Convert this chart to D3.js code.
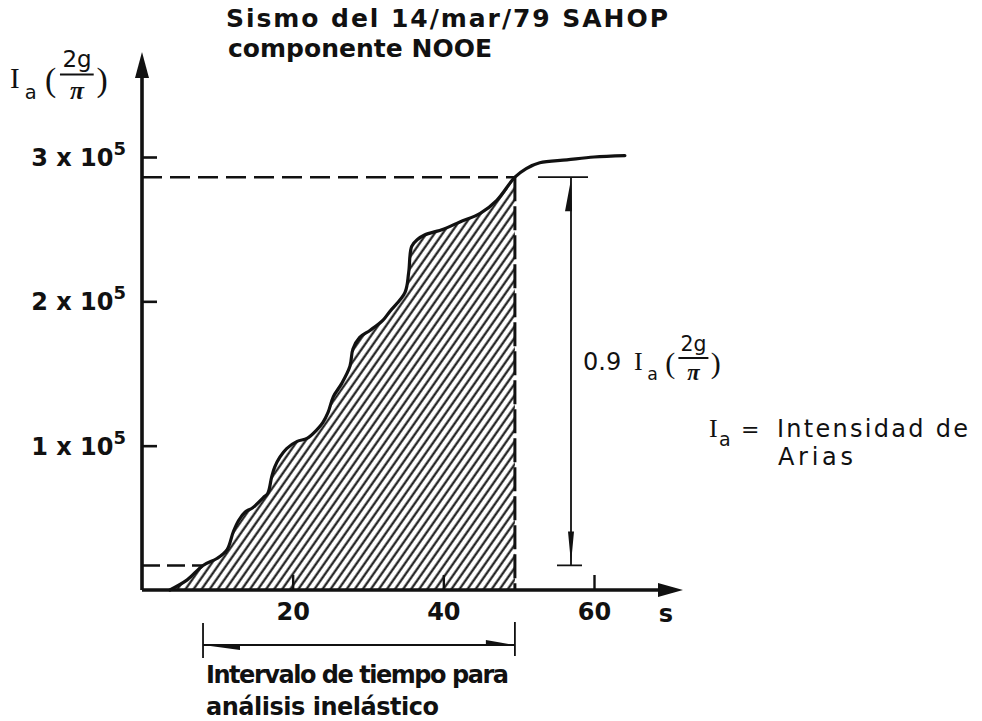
<!DOCTYPE html>
<html>
<head>
<meta charset="utf-8">
<script src="https://cdn.jsdelivr.net/npm/d3@7"></script>
<style>
  body { margin: 0; background: #fff; }
  text { font-family: "DejaVu Sans", sans-serif; font-weight: bold; fill: #111; }
  .serif { font-family: "Liberation Serif", serif; font-weight: normal; }
</style>
</head>
<body>
<div id="chart"></div>
<script>
// Arias intensity build-up, time in s, intensity in units of 1e5 (2g/pi)
const timeS = [3.7, 6, 8.1, 10, 11.3, 12.1, 12.8, 13.7, 14.7, 16.1, 16.7, 17.2, 17.6, 18.3, 19.2,
  20.6, 21.9, 23.2, 24.0, 24.7, 25.4, 26.5, 27.6, 28.0, 28.9, 30.3, 32.0, 32.9, 34.9, 35.4,
  35.8, 36.6, 37.5, 40.0, 42.2, 44.9, 47.1, 49.5, 51, 52.8, 56.4, 60, 64.1];
const intensity = [0, 0.07, 0.17, 0.22, 0.28, 0.40, 0.48, 0.54, 0.57, 0.64, 0.67, 0.78, 0.85, 0.92, 0.98,
  1.03, 1.05, 1.11, 1.16, 1.23, 1.34, 1.43, 1.55, 1.67, 1.75, 1.80, 1.87, 1.93, 2.06, 2.20,
  2.38, 2.43, 2.46, 2.50, 2.55, 2.61, 2.70, 2.86, 2.92, 2.96, 2.98, 3.00, 3.01];
const yTicks = [1, 2, 3];
const xTicks = [20, 40, 60];
const t5 = 8.1, i5 = 0.17;     // 5 % of total intensity
const t95 = 49.5, i95 = 2.86;  // 95 % of total intensity

const W = 982, H = 721;
const svg = d3.select('#chart').append('svg')
    .attr('width', W)
    .attr('height', H);

const x = d3.scaleLinear().domain([0, 60]).range([142, 594]);
const y = d3.scaleLinear().domain([0, 3]).range([590, 157]);

const points = timeS.map((t, i) => ({ t: t, v: intensity[i] }));

// hatch pattern
const defs = svg.append('defs');
defs.append('pattern')
    .attr('id', 'hatch')
    .attr('patternUnits', 'userSpaceOnUse')
    .attr('width', 6.6)
    .attr('height', 10)
    .attr('patternTransform', 'rotate(35)')
    .append('line')
    .attr('x1', 1.5).attr('x2', 1.5)
    .attr('y1', -1).attr('y2', 11)
    .attr('stroke', '#111')
    .attr('stroke-width', 2.1);

const area = d3.area()
    .x(d => x(d.t))
    .y0(y(0))
    .y1(d => y(d.v))
    .curve(d3.curveCatmullRom.alpha(0.5));

svg.append('path')
    .datum(points.filter(d => d.t <= t95))
    .attr('d', area)
    .attr('fill', 'url(#hatch)');

// dashed guide lines
svg.append('line')
    .attr('x1', x(0)).attr('x2', x(t95))
    .attr('y1', y(i95)).attr('y2', y(i95))
    .attr('stroke', '#111').attr('stroke-width', 2.6)
    .attr('stroke-dasharray', '20 8');

svg.append('line')
    .attr('x1', x(0)).attr('x2', x(t5))
    .attr('y1', y(i5)).attr('y2', y(i5))
    .attr('stroke', '#111').attr('stroke-width', 2.6)
    .attr('stroke-dasharray', '18 7');

svg.append('line')
    .attr('x1', x(t95)).attr('x2', x(t95))
    .attr('y1', y(i95)).attr('y2', y(0))
    .attr('stroke', '#111').attr('stroke-width', 3)
    .attr('stroke-dasharray', '24 5');

// curve
const line = d3.line()
    .x(d => x(d.t))
    .y(d => y(d.v))
    .curve(d3.curveCatmullRom.alpha(0.5));

svg.append('path')
    .datum(points)
    .attr('d', line)
    .attr('fill', 'none')
    .attr('stroke', '#111')
    .attr('stroke-width', 3.2)
    .attr('stroke-linejoin', 'round')
    .attr('stroke-linecap', 'round');

// axes
const yAxis = svg.append('g')
    .attr('transform', `translate(${x(0)},0)`)
    .call(d3.axisLeft(y).tickValues(yTicks).tickSizeInner(-15).tickSizeOuter(0).tickPadding(16));
yAxis.select('.domain').remove();
yAxis.selectAll('.tick line').attr('stroke', '#111').attr('stroke-width', 2.6);
yAxis.selectAll('.tick text')
    .attr('dy', '0.36em')
    .style('font-size', '24px')
    .each(function(d) {
        const t = d3.select(this).text('');
        t.append('tspan').text(d + ' x 10');
        t.append('tspan').attr('dy', -11).style('font-size', '18px').text('5');
    });

const xAxis = svg.append('g')
    .attr('transform', `translate(0,${y(0)})`)
    .call(d3.axisBottom(x).tickValues(xTicks).tickSizeInner(-15).tickSizeOuter(0).tickPadding(13));
xAxis.select('.domain').remove();
xAxis.selectAll('.tick line').attr('stroke', '#111').attr('stroke-width', 2.4);
xAxis.selectAll('.tick text').style('font-size', '24px');

// axis lines with arrows
svg.append('path')
    .attr('d', `M${x(0)},${y(0)}H662M${x(0)},${y(0)}V76`)
    .attr('fill', 'none')
    .attr('stroke', '#111')
    .attr('stroke-width', 3.6);
svg.append('path')
    .attr('d', `M683,${y(0)}L658,${y(0) - 7}L658,${y(0) + 7}Z`)
    .attr('fill', '#111');
svg.append('path')
    .attr('d', `M${x(0)},52L${x(0) - 7},78L${x(0) + 7},78Z`)
    .attr('fill', '#111');

svg.append('text').attr('x', 666).attr('y', 622)
    .attr('text-anchor', 'middle').style('font-size', '24px').text('s');

// dimension line 0.9 Ia
const dimX = 571;
svg.append('path')
    .attr('d', `M${dimX},${y(i95)}V${y(i5)}M538,${y(i95)}H588M557,${y(i5)}H582`)
    .attr('fill', 'none').attr('stroke', '#111').attr('stroke-width', 1.8);
svg.append('path')
    .attr('d', `M${dimX},${y(i95) + 2}L${dimX - 6},${y(i95) + 34}L${dimX + 1},${y(i95) + 34}Z`)
    .attr('fill', '#111');
svg.append('path')
    .attr('d', `M${dimX},${y(i5) - 2}L${dimX - 3},${y(i5) - 34}L${dimX + 3},${y(i5) - 34}Z`)
    .attr('fill', '#111');

// time interval bracket
const brY = 645;
svg.append('path')
    .attr('d', `M${x(t5)},623V658M${x(t95)},622V656M${x(t5)},${brY}H${x(t95)}`)
    .attr('fill', 'none').attr('stroke', '#111').attr('stroke-width', 1.8);
svg.append('path')
    .attr('d', `M${x(t5)},${brY}L${x(t5) + 37},${brY}L${x(t5) + 37},${brY + 5}Z`)
    .attr('fill', '#111');
svg.append('path')
    .attr('d', `M${x(t95)},${brY}L${x(t95) - 29},${brY}L${x(t95) - 29},${brY - 5}Z`)
    .attr('fill', '#111');

// Ia(2g/pi) label helper
function iaLabel(x0, base, s) {
    const g = svg.append('g');
    g.append('text').attr('class', 'serif').attr('x', x0).attr('y', base)
        .style('font-size', (s + 2) + 'px').text('I');
    g.append('text').attr('x', x0 + s * 0.55).attr('y', base + s * 0.42)
        .style('font-size', (s * 0.72) + 'px').style('font-weight', 'normal').text('a');
    g.append('text').attr('class', 'serif').attr('x', x0 + s * 1.3).attr('y', base + 3)
        .style('font-size', (s * 1.25) + 'px').text('(');
    g.append('text').attr('x', x0 + s * 2.48).attr('y', base - s * 0.78)
        .attr('text-anchor', 'middle')
        .style('font-size', (s * 0.85) + 'px').style('font-weight', 'normal').text('2g');
    g.append('line')
        .attr('x1', x0 + s * 1.85).attr('x2', x0 + s * 3.1)
        .attr('y1', base - s * 0.5).attr('y2', base - s * 0.5)
        .attr('stroke', '#111').attr('stroke-width', 2);
    g.append('text').attr('class', 'serif').attr('x', x0 + s * 2.48).attr('y', base + s * 0.42)
        .attr('text-anchor', 'middle')
        .style('font-size', (s * 0.95) + 'px').style('font-style', 'italic').style('font-weight', 'bold').text('π');
    g.append('text').attr('class', 'serif').attr('x', x0 + s * 3.2).attr('y', base + 3)
        .style('font-size', (s * 1.25) + 'px').text(')');
}

iaLabel(10, 88, 27);
svg.append('text').attr('x', 583).attr('y', 370)
    .style('font-size', '24px').style('font-weight', 'normal').text('0.9');
iaLabel(634, 370, 24);

// legend Ia = Intensidad de Arias
svg.append('text').attr('class', 'serif').attr('x', 709).attr('y', 437)
    .style('font-size', '26px').text('I');
svg.append('text').attr('x', 719).attr('y', 446)
    .style('font-size', '19px').style('font-weight', 'normal').text('a');
svg.append('text').attr('x', 741).attr('y', 437)
    .style('font-size', '22px').style('font-weight', 'normal').text('=');
svg.append('text').attr('x', 777).attr('y', 437)
    .attr('textLength', 191).attr('lengthAdjust', 'spacing')
    .style('font-size', '24px').style('font-weight', 'normal').text('Intensidad de');
svg.append('text').attr('x', 778).attr('y', 465)
    .attr('textLength', 75).attr('lengthAdjust', 'spacing')
    .style('font-size', '24px').style('font-weight', 'normal').text('Arias');

// title
svg.append('text').attr('x', 226).attr('y', 27)
    .attr('textLength', 442).attr('lengthAdjust', 'spacing')
    .style('font-size', '25px').text('Sismo del 14/mar/79  SAHOP');
svg.append('text').attr('x', 228).attr('y', 57)
    .attr('textLength', 264).attr('lengthAdjust', 'spacing')
    .style('font-size', '25px').text('componente NOOE');

// interval caption
svg.append('text').attr('x', 206).attr('y', 683)
    .attr('textLength', 303).attr('lengthAdjust', 'spacing')
    .style('font-size', '24px').text('Intervalo de tiempo para');
svg.append('text').attr('x', 206).attr('y', 715)
    .attr('textLength', 233).attr('lengthAdjust', 'spacing')
    .style('font-size', '24px').text('análisis inelástico');
</script>
</body>
</html>
